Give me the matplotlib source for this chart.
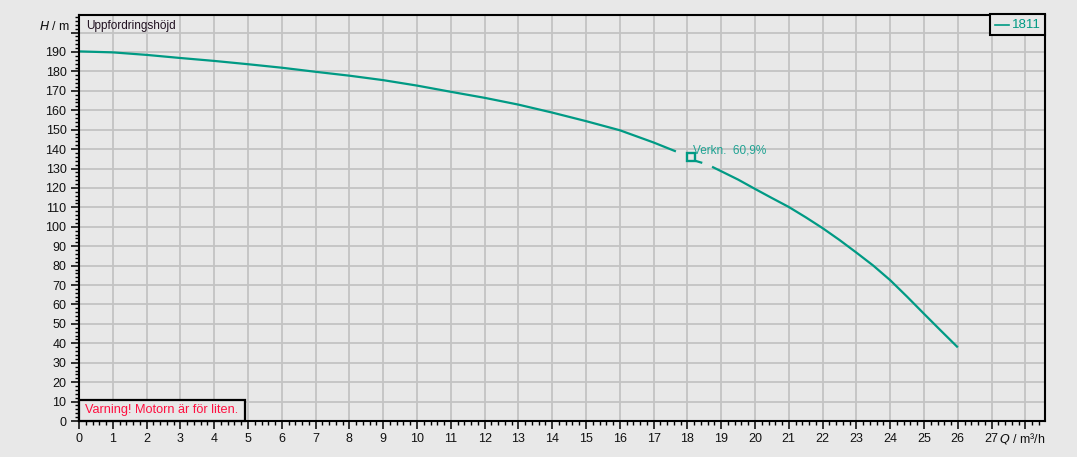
import matplotlib
matplotlib.use("Agg")
import matplotlib.pyplot as plt
from matplotlib.ticker import MultipleLocator
from matplotlib.lines import Line2D
from matplotlib.patches import Rectangle

plt.rcParams['font.family'] = ['Liberation Sans', 'DejaVu Sans']

# Data
q_seg1 = [0, 1, 2, 3, 4, 5, 6, 7, 8, 9, 10, 11, 12, 13, 14, 15, 16, 17, 17.66]
h_seg1 = [190.3, 189.8, 188.5, 186.9, 185.4, 183.7, 181.9, 179.8, 177.8, 175.5,
          172.7, 169.5, 166.4, 162.9, 158.8, 154.4, 149.7, 143.4, 138.8]
q_seg2 = [18.23, 18.44]
h_seg2 = [134.0, 132.9]
q_seg3 = [18.73, 19, 19.5, 20, 20.5, 21, 21.5, 22, 22.5, 23, 23.5, 24, 24.5, 25, 25.5, 26]
h_seg3 = [130.9, 128.6, 124.3, 119.5, 114.8, 110.2, 104.9, 99.3, 93.2, 86.7, 80.0,
          72.5, 64.0, 55.2, 46.5, 37.9]
bep_q = [18.12]
bep_h = [135.7]
bep_label = "Verkn.  60,9%"
series_name = "1811"
x_tick_labels = [str(i) for i in range(0, 28)]
y_tick_labels = [str(i) for i in range(0, 200, 10)]

BG = '#e8e8e8'
TEAL = '#009a84'
GRID = '#c3c3c3'
W, H = 1077, 457

fig = plt.figure(figsize=(W/100, H/100), dpi=100, facecolor=BG)
ax = fig.add_axes([79/W, 36/H, (1045-79)/W, (421-14.5)/H])
ax.set_facecolor(BG)

ax.set_xlim(0, 28.58)
ax.set_ylim(0, 209.3)

ax.xaxis.set_minor_locator(MultipleLocator(0.2))
ax.yaxis.set_minor_locator(MultipleLocator(2))

ax.set_xticks(list(range(0, 29)))
ax.set_xticklabels(x_tick_labels + [''])
ax.set_yticks(list(range(0, 210, 10)))
ax.set_yticklabels(y_tick_labels + [''])
ax.grid(True, which='major', color=GRID, linewidth=1.3)
ax.set_axisbelow(True)

ax.tick_params(which='major', direction='out', length=6, width=1.1, color='black',
               labelsize=9, labelcolor='#111111', pad=3)
ax.tick_params(which='minor', direction='out', length=3, width=1.0, color='black')
for s in ax.spines.values():
    s.set_linewidth(1.5)
    s.set_color('black')

kw = dict(color=TEAL, linewidth=1.6, solid_capstyle='butt', solid_joinstyle='round')
ax.plot(q_seg1, h_seg1, **kw)
ax.plot(q_seg2, h_seg2, **kw)
ax.plot(q_seg3, h_seg3, **kw)
ax.plot(bep_q, bep_h, marker='s', markersize=5.5, markerfacecolor='none',
        markeredgecolor=TEAL, markeredgewidth=1.7, linestyle='none')
ax.text(bep_q[0] + 0.05, bep_h[0] + 3.5, bep_label, color='#1fa393', fontsize=8.5,
        ha='left', va='center')

ax.text(0.2, 203.5, "Uppfordringshöjd", fontsize=8.5, color='#201020', ha='left', va='center')
fig.text(70/W, 1 - 26/H, "$\\mathit{H}$ / m", fontsize=9, ha='right', va='center',
         color='#111111')
fig.text(1045/W, 1 - 438/H, "$\\mathit{Q}$ / m³/h", fontsize=9, ha='right',
         va='center', color='#111111')

# Legend box (top right)
tf = fig.transFigure
fig.patches.append(Rectangle((989.5/W, 1 - 34.7/H), (1045-989.5)/W, (34.7-14)/H,
                             transform=tf, facecolor=BG, edgecolor='black',
                             linewidth=1.5, zorder=5))
fig.lines.append(Line2D([995/W, 1009/W], [1 - 25/H, 1 - 25/H], transform=tf,
                        color=TEAL, linewidth=1.2, zorder=6))
fig.text(1012/W, 1 - 25/H, series_name, color=TEAL, fontsize=9.5, ha='left',
         va='center', zorder=6)

# Warning box (bottom left)
fig.patches.append(Rectangle((79/W, 1 - 421/H), (245-79)/W, (421-399.5)/H,
                             transform=tf, facecolor=BG, edgecolor='black',
                             linewidth=1.6, zorder=5))
fig.text(85/W, 1 - 410.5/H, "Varning! Motorn är för liten.", color='#ff1040',
         fontsize=9.2, ha='left', va='center', zorder=6)

fig.savefig('out.png', dpi=100, facecolor=BG)
